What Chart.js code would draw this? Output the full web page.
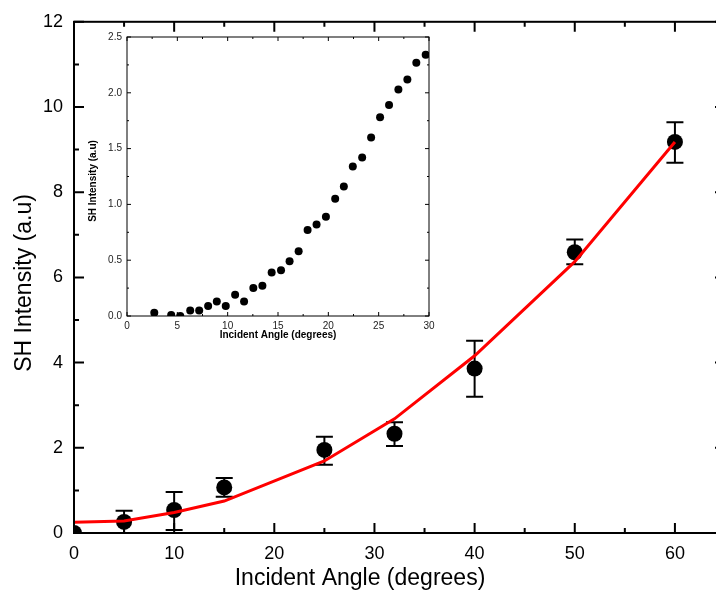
<!DOCTYPE html>
<html>
<head>
<meta charset="utf-8">
<script src="https://cdn.jsdelivr.net/npm/chart.js@4.4.1/dist/chart.umd.min.js"></script>
<style>
  body { margin: 0; background: #fff; }
  #wrap { position: relative; width: 716px; height: 591px; overflow: hidden; background: #fff; }
  #mainChart { position: absolute; left: 0; top: 0; }
  #insetChart { position: absolute; left: 80px; top: 20px; }
</style>
</head>
<body>
<div id="wrap">
  <canvas id="mainChart" width="740" height="591"></canvas>
  <canvas id="insetChart" width="360" height="340"></canvas>
</div>
<script>
// main plot: measured points with error bars + fit line
const angles = [0, 5, 10, 15, 25, 32, 40, 50, 60];
const intensity = [0, 0.26, 0.54, 1.07, 1.95, 2.33, 3.86, 6.59, 9.18];
const errLow = [0, 0.0, 0.07, 0.85, 1.60, 2.04, 3.20, 6.31, 8.69];
const errHigh = [0, 0.52, 0.96, 1.29, 2.26, 2.60, 4.51, 6.89, 9.64];
const fitValues = [0.25, 0.28, 0.48, 0.75, 1.69, 2.68, 4.16, 6.37, 9.18];

// inset plot
const insetAngles = [2.71, 4.39, 5.29, 6.28, 7.17, 8.06, 8.92, 9.81, 10.74, 11.63,
  12.55, 13.45, 14.37, 15.30, 16.15, 17.05, 17.94, 18.83, 19.76, 20.68,
  21.54, 22.43, 23.36, 24.25, 25.14, 26.03, 26.96, 27.85, 28.74, 29.67];
const insetIntensity = [0.03, 0.01, 0.0, 0.05, 0.05, 0.09, 0.13, 0.09, 0.19, 0.13,
  0.25, 0.27, 0.39, 0.41, 0.49, 0.58, 0.77, 0.82, 0.89, 1.05,
  1.16, 1.34, 1.42, 1.60, 1.78, 1.89, 2.03, 2.12, 2.27, 2.34];

const FONT = "'Liberation Sans', Arial, sans-serif";

function pairs(xs, ys) {
  return xs.map((x, i) => ({ x: x, y: ys[i] }));
}

// box around the plot with inward ticks on all four sides
const framePlugin = {
  id: 'frame',
  afterDraw(chart, args, opts) {
    const { ctx, chartArea: a, scales: { x, y } } = chart;
    ctx.save();
    ctx.strokeStyle = '#000';
    ctx.lineWidth = opts.width;
    ctx.strokeRect(a.left, a.top, a.right - a.left, a.bottom - a.top);
    ctx.beginPath();
    for (let v = x.min; v <= x.max + 1e-9; v += opts.xMinor) {
      const isMajor = Math.abs(v / opts.xMajor - Math.round(v / opts.xMajor)) < 1e-6;
      const len = isMajor ? opts.major : opts.minor;
      const px = x.getPixelForValue(v);
      ctx.moveTo(px, a.bottom); ctx.lineTo(px, a.bottom - len);
      ctx.moveTo(px, a.top); ctx.lineTo(px, a.top + len);
    }
    for (let v = y.min; v <= y.max + 1e-9; v += opts.yMinor) {
      const isMajor = Math.abs(v / opts.yMajor - Math.round(v / opts.yMajor)) < 1e-6;
      const len = isMajor ? opts.major : opts.minor;
      const py = y.getPixelForValue(v);
      ctx.moveTo(a.left, py); ctx.lineTo(a.left + len, py);
      ctx.moveTo(a.right, py); ctx.lineTo(a.right - len, py);
    }
    ctx.stroke();
    ctx.restore();
  }
};

// vertical error bars with caps, under the points
const errorBarPlugin = {
  id: 'errorBars',
  beforeDatasetsDraw(chart, args, opts) {
    if (!opts.low) return;
    const { ctx, chartArea: a, scales: { x, y } } = chart;
    ctx.save();
    ctx.beginPath();
    ctx.rect(a.left, a.top, a.right - a.left, a.bottom - a.top);
    ctx.clip();
    ctx.strokeStyle = '#000';
    ctx.lineWidth = 2;
    ctx.beginPath();
    opts.xs.forEach((xv, i) => {
      if (opts.low[i] === opts.high[i]) return;
      const px = x.getPixelForValue(xv);
      const lo = y.getPixelForValue(opts.low[i]);
      const hi = y.getPixelForValue(opts.high[i]);
      ctx.moveTo(px, lo); ctx.lineTo(px, hi);
      ctx.moveTo(px - opts.cap, lo); ctx.lineTo(px + opts.cap, lo);
      ctx.moveTo(px - opts.cap, hi); ctx.lineTo(px + opts.cap, hi);
    });
    ctx.stroke();
    ctx.restore();
  }
};

// axis titles placed where the original has them
const titlePlugin = {
  id: 'titles',
  afterDraw(chart, args, opts) {
    const ctx = chart.ctx;
    (opts.items || []).forEach(t => {
      ctx.save();
      ctx.translate(t.x, t.y);
      if (t.rotate) ctx.rotate(-Math.PI / 2);
      ctx.font = t.font;
      ctx.fillStyle = '#000';
      ctx.textAlign = 'center';
      ctx.textBaseline = 'middle';
      ctx.fillText(t.text, 0, 0);
      ctx.restore();
    });
  }
};

new Chart(document.getElementById('mainChart'), {
  type: 'scatter',
  data: {
    datasets: [
      {
        label: 'fit',
        data: pairs(angles, fitValues),
        showLine: true,
        borderColor: '#ff0000',
        borderWidth: 3,
        pointRadius: 0,
        fill: false
      },
      {
        label: 'SH',
        data: pairs(angles, intensity),
        pointRadius: 8,
        pointBackgroundColor: '#000',
        pointBorderColor: '#000',
        pointBorderWidth: 0,
        clip: 0
      }
    ]
  },
  options: {
    responsive: false,
    animation: false,
    devicePixelRatio: 1,
    layout: { padding: { left: 0, top: 19, right: 15, bottom: 0 } },
    scales: {
      x: {
        type: 'linear',
        min: 0, max: 65,
        grid: { display: false, drawTicks: false },
        border: { display: false },
        ticks: { stepSize: 10, includeBounds: false, padding: 10, color: '#000', font: { family: FONT, size: 18 } },
        afterFit: scale => { scale.height = 58; }
      },
      y: {
        min: 0, max: 12,
        grid: { display: false, drawTicks: false },
        border: { display: false },
        ticks: { stepSize: 2, padding: 11, color: '#000', font: { family: FONT, size: 18 } },
        afterFit: scale => { scale.width = 74; }
      }
    },
    plugins: {
      legend: { display: false },
      tooltip: { enabled: false },
      frame: { width: 2, major: 10, minor: 5, xMajor: 10, xMinor: 5, yMajor: 2, yMinor: 1 },
      errorBars: { xs: angles, low: errLow, high: errHigh, cap: 8.5 },
      titles: {
        items: [
          { text: 'Incident Angle (degrees)', x: 360, y: 579, font: '23px ' + FONT },
          { text: 'SH Intensity (a.u)', x: 25, y: 283, rotate: true, font: '23px ' + FONT }
        ]
      }
    }
  },
  plugins: [errorBarPlugin, framePlugin, titlePlugin]
});

new Chart(document.getElementById('insetChart'), {
  type: 'scatter',
  data: {
    datasets: [
      {
        label: 'inset',
        data: pairs(insetAngles, insetIntensity),
        pointRadius: 4,
        pointBackgroundColor: '#000',
        pointBorderColor: '#000',
        pointBorderWidth: 0,
        clip: 0
      }
    ]
  },
  options: {
    responsive: false,
    animation: false,
    devicePixelRatio: 1,
    layout: { padding: { left: 0, top: 17, right: 11, bottom: 0 } },
    scales: {
      x: {
        type: 'linear',
        min: 0, max: 30,
        grid: { display: false, drawTicks: false },
        border: { display: false },
        ticks: { stepSize: 5, padding: 4, color: '#222', font: { family: FONT, size: 10 } },
        afterFit: scale => { scale.height = 44; }
      },
      y: {
        min: 0, max: 2.5,
        grid: { display: false, drawTicks: false },
        border: { display: false },
        ticks: { stepSize: 0.5, padding: 5, color: '#222', font: { family: FONT, size: 10 },
          callback: v => v.toFixed(1) },
        afterFit: scale => { scale.width = 47; }
      }
    },
    plugins: {
      legend: { display: false },
      tooltip: { enabled: false },
      frame: { width: 1, major: 4, minor: 2, xMajor: 5, xMinor: 2.5, yMajor: 0.5, yMinor: 0.25 },
      titles: {
        items: [
          { text: 'Incident Angle (degrees)', x: 198, y: 315, font: 'bold 10px ' + FONT },
          { text: 'SH Intensity (a.u)', x: 13, y: 161, rotate: true, font: 'bold 10px ' + FONT }
        ]
      }
    }
  },
  plugins: [framePlugin, titlePlugin]
});
</script>
</body>
</html>
